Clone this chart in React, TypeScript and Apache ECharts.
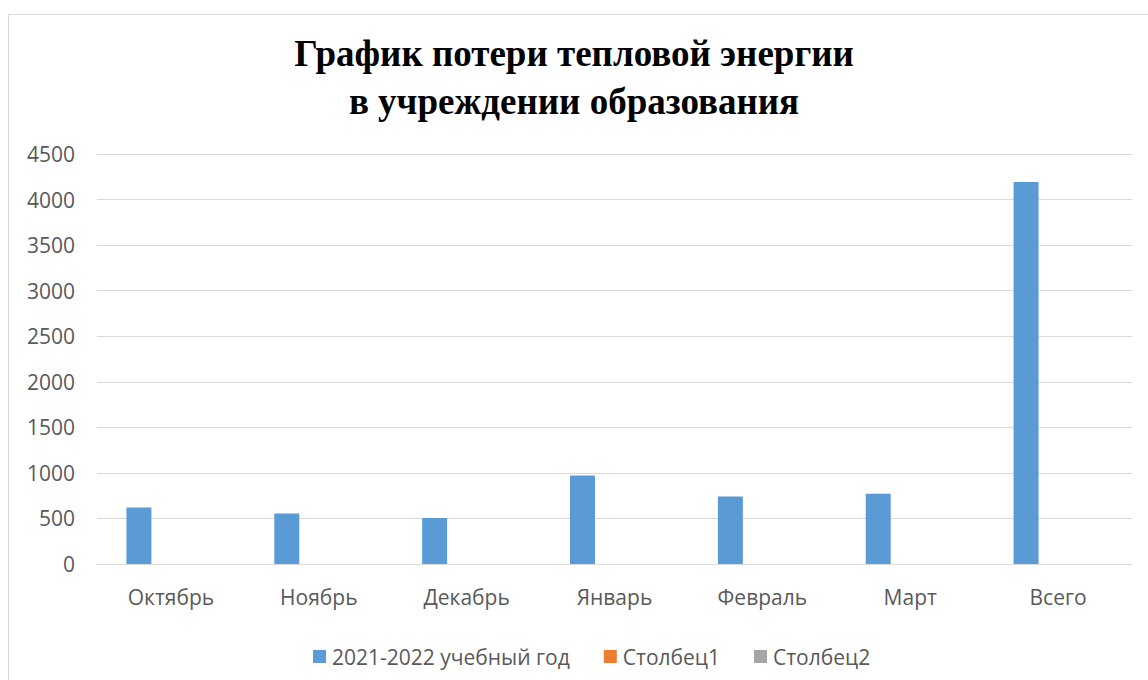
import React, { useEffect, useRef } from "react";
import * as echarts from "echarts";

const categories = ["Октябрь", "Ноябрь", "Декабрь", "Январь", "Февраль", "Март", "Всего"];
const seriesMain = [620, 555, 505, 972, 742, 772, 4193];
const series1: (number | null)[] = [null, null, null, null, null, null, null];
const series2: (number | null)[] = [null, null, null, null, null, null, null];
const seriesNames = ["2021-2022 учебный год", "Столбец1", "Столбец2"];
const titleText = "График потери тепловой энергии\nв учреждении образования";

export default function App() {
  const ref = useRef<HTMLDivElement>(null);
  useEffect(() => {
    if (!ref.current) return;
    const chart = echarts.init(ref.current, null, { renderer: "svg" });
    const labelFont = "'Open Sans', sans-serif";
    chart.setOption({
      animation: false,
      backgroundColor: "#ffffff",
      title: {
        text: titleText,
        left: "center",
        top: 24,
        textStyle: {
          fontFamily: "'Liberation Serif', serif",
          fontWeight: "bold",
          fontSize: 37,
          lineHeight: 48,
          color: "#000000",
        },
      },
      graphic: [
        {
          type: "rect",
          shape: { x: 8.5, y: 14.5, width: 1150, height: 680 },
          style: { fill: "none", stroke: "#d9d9d9", lineWidth: 1 },
          silent: true,
        },
      ],
      grid: { left: 97, right: 16, top: 154, bottom: 116, containLabel: false },
      legend: {
        data: seriesNames,
        top: 641,
        left: 308,
        icon: "rect",
        itemWidth: 13,
        itemHeight: 13,
        itemGap: 34,
        textStyle: { fontFamily: labelFont, fontSize: 21, color: "#595959", padding: [0, 0, 0, 1] },
      },
      xAxis: {
        type: "category",
        data: categories,
        axisLine: { lineStyle: { color: "#d9d9d9", width: 1 } },
        axisTick: { show: false },
        axisLabel: { fontFamily: labelFont, fontSize: 21, color: "#595959", margin: 22 },
      },
      yAxis: {
        type: "value",
        min: 0,
        max: 4500,
        interval: 500,
        axisLine: { show: false },
        axisTick: { show: false },
        splitLine: { lineStyle: { color: "#d9d9d9", width: 1 } },
        axisLabel: {
          fontFamily: labelFont,
          fontSize: 21,
          color: "#595959",
          margin: 22,
          formatter: (v: number) => String(v),
        },
      },
      series: [
        {
          name: seriesNames[0],
          type: "bar",
          data: seriesMain,
          barWidth: 25,
          barGap: "28%",
          itemStyle: { color: "#5B9BD5" },
        },
        {
          name: seriesNames[1],
          type: "bar",
          data: series1,
          barWidth: 25,
          barGap: "28%",
          itemStyle: { color: "#ED7D31" },
        },
        {
          name: seriesNames[2],
          type: "bar",
          data: series2,
          barWidth: 25,
          barGap: "28%",
          itemStyle: { color: "#A5A5A5" },
        },
      ],
    });
    return () => chart.dispose();
  }, []);
  return (
    <div
      ref={ref}
      style={{ position: "absolute", left: 0, top: 0, width: 1148, height: 680 }}
    />
  );
}
